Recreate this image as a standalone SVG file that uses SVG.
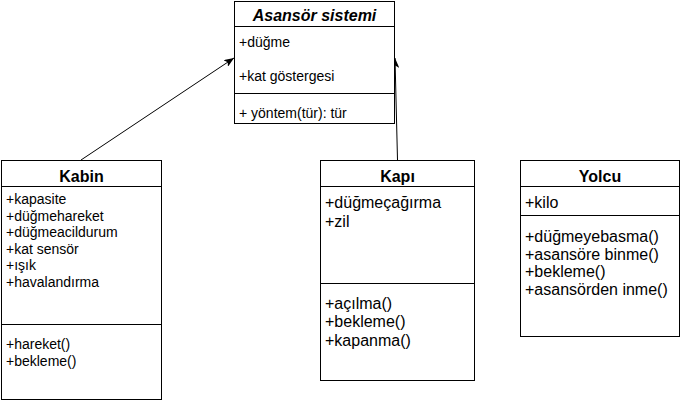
<svg xmlns="http://www.w3.org/2000/svg" width="681" height="402" viewBox="0 0 681 402">
<style>
.box{fill:#fff;stroke:#000;stroke-width:1}
.ln{stroke:#000;stroke-width:1;fill:none}
.t{font-family:"Liberation Sans",Arial,sans-serif;fill:#000}
.title{font-size:16px;font-weight:bold;text-anchor:middle}
.s14{font-size:14px}
.s16{font-size:16px}
</style>
<defs>
<marker id="arr" viewBox="0 0 10 8" refX="10" refY="4" markerWidth="10" markerHeight="8" orient="auto" markerUnits="userSpaceOnUse">
<path d="M0,0 L10,4 L0,8 L2.5,4 Z" fill="#000"/>
</marker>
</defs>
<rect width="681" height="402" fill="#fff"/>
<g id="connectors">
<line class="ln" x1="81" y1="160" x2="234" y2="58" marker-end="url(#arr)"/>
<line class="ln" x1="397.5" y1="160" x2="395" y2="58" marker-end="url(#arr)"/>
</g>
<g id="asansor">
<rect class="box" x="234.5" y="1.5" width="160" height="122"/>
<line class="ln" x1="234.5" y1="26.5" x2="394.5" y2="26.5"/>
<line class="ln" x1="234.5" y1="93.5" x2="394.5" y2="93.5"/>
<text class="t title" x="314.5" y="21" font-style="italic">Asansör sistemi</text>
<text class="t s14" x="239" y="47">+düğme</text>
<text class="t s14" x="239" y="81">+kat göstergesi</text>
<text class="t s14" x="239" y="118">+ yöntem(tür): tür</text>
</g>
<g id="kabin">
<rect class="box" x="1.5" y="160.5" width="160" height="239"/>
<line class="ln" x1="1.5" y1="186.5" x2="161.5" y2="186.5"/>
<line class="ln" x1="1.5" y1="324.5" x2="161.5" y2="324.5"/>
<text class="t title" x="81.5" y="182">Kabin</text>
<text class="t s14" x="6" y="204">+kapasite</text>
<text class="t s14" x="6" y="220.6">+düğmehareket</text>
<text class="t s14" x="6" y="237.2">+düğmeacildurum</text>
<text class="t s14" x="6" y="253.8">+kat sensör</text>
<text class="t s14" x="6" y="270.4">+ışık</text>
<text class="t s14" x="6" y="287">+havalandırma</text>
<text class="t s14" x="6" y="349">+hareket()</text>
<text class="t s14" x="6" y="366">+bekleme()</text>
</g>
<g id="kapi">
<rect class="box" x="320.5" y="160.5" width="154" height="220"/>
<line class="ln" x1="320.5" y1="186.5" x2="474.5" y2="186.5"/>
<line class="ln" x1="320.5" y1="283.5" x2="474.5" y2="283.5"/>
<text class="t title" x="397.5" y="182">Kapı</text>
<text class="t s16" x="325" y="208">+düğmeçağırma</text>
<text class="t s16" x="325" y="227">+zil</text>
<text class="t s16" x="325" y="308.5">+açılma()</text>
<text class="t s16" x="325" y="327">+bekleme()</text>
<text class="t s16" x="325" y="345.5">+kapanma()</text>
</g>
<g id="yolcu">
<rect class="box" x="520.5" y="160.5" width="159" height="176"/>
<line class="ln" x1="520.5" y1="186.5" x2="679.5" y2="186.5"/>
<line class="ln" x1="520.5" y1="215.5" x2="679.5" y2="215.5"/>
<text class="t title" x="600" y="182">Yolcu</text>
<text class="t s16" x="525" y="208">+kilo</text>
<text class="t s16" x="525" y="242">+düğmeyebasma()</text>
<text class="t s16" x="525" y="259.5">+asansöre binme()</text>
<text class="t s16" x="525" y="277">+bekleme()</text>
<text class="t s16" x="525" y="294.5">+asansörden inme()</text>
</g>
</svg>
